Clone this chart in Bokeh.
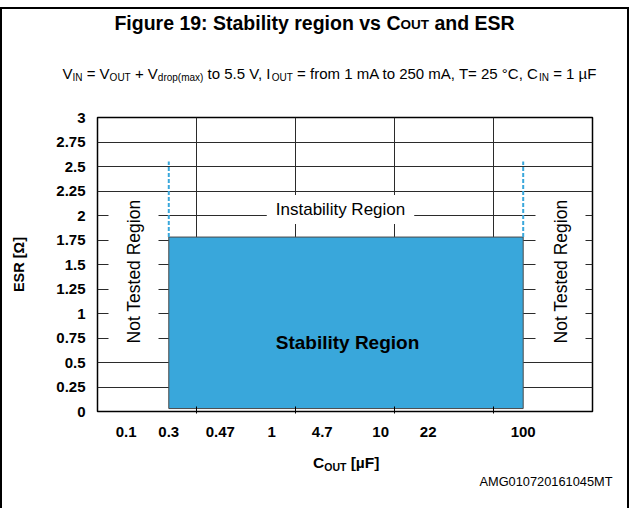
import math
from bokeh.plotting import figure
from bokeh.layouts import column
from bokeh.models import Range1d, FixedTicker, Label, ColumnDataSource
from bokeh.embed import file_html
from bokeh.resources import INLINE

# ---------------- data ----------------
cout_values = [0.1, 0.3, 0.47, 1, 4.7, 10, 22, 100]          # C_OUT tick values [uF]
cout_labels = ["0.1", "0.3", "0.47", "1", "4.7", "10", "22", "100"]
cout_slots = [0.29, 0.72, 1.24, 1.76, 2.27, 2.86, 3.34, 4.30]  # slot of each tick on the 5-column axis
column_edges = [1, 2, 3, 4]                                    # vertical grid columns

esr_ticks = [0, 0.25, 0.5, 0.75, 1, 1.25, 1.5, 1.75, 2, 2.25, 2.5, 2.75, 3]
esr_labels = ["0", "0.25", "0.5", "0.75", "1", "1.25", "1.5", "1.75", "2",
              "2.25", "2.5", "2.75", "3"]

stable_cout = [0.3, 100]     # C_OUT range of the stability region [uF]
stable_esr = [0.03, 1.78]    # ESR range of the stability region [ohm]
tested_esr_top = 2.55        # top of the dashed "tested" limits [ohm]

# ---------------- layout (page pixels) ----------------
OX, OY = 2, 9                 # content origin inside the border
W = 625
TOP_H, MAIN_H, BOT_H = 91, 350, 58
MAIN_Y0 = OY + TOP_H          # 100
BOT_Y0 = MAIN_Y0 + MAIN_H     # 450
FRAME_L, FRAME_R, FRAME_T, FRAME_B = 97, 592, 117, 411

FONT = "Liberation Sans"
BLUE = "#39A7DB"


def blank(h, y0):
    f = figure(width=W, height=h, x_range=Range1d(OX, OX + W), y_range=Range1d(y0 + h, y0),
               output_backend="svg", toolbar_location=None, frame_align=False,
               x_axis_location=None, y_axis_location=None,
               min_border_left=0, min_border_right=0, min_border_top=0, min_border_bottom=0)
    f.outline_line_color = None
    f.xgrid.visible = False
    f.ygrid.visible = False
    f.background_fill_color = "white"
    f.border_fill_color = "white"
    return f


top = blank(TOP_H, OY)
bot = blank(BOT_H, BOT_Y0)

p = figure(width=W, height=MAIN_H, x_range=Range1d(0, 5), y_range=Range1d(0, 3),
           output_backend="svg", toolbar_location=None, frame_align=False,
           min_border_left=FRAME_L - OX, min_border_right=OX + W - FRAME_R,
           min_border_top=FRAME_T - MAIN_Y0, min_border_bottom=BOT_Y0 - FRAME_B)
p.background_fill_color = "white"
p.border_fill_color = "white"
p.outline_line_color = "black"
p.outline_line_width = 1.5

# grids
p.xgrid.ticker = FixedTicker(ticks=column_edges)
p.ygrid.ticker = FixedTicker(ticks=esr_ticks)
for g in (p.xgrid, p.ygrid):
    g.grid_line_color = "#2b2b2b"
    g.grid_line_width = 1

# x axis: labels at their slots, small ticks at the column edges
slot_of = dict(zip(cout_values, cout_slots))
xa = p.xaxis[0]
xa.ticker = FixedTicker(ticks=cout_slots, minor_ticks=column_edges)
xa.major_label_overrides = {s: l for s, l in zip(cout_slots, cout_labels)}
xa.major_tick_in = 0
xa.major_tick_out = 0
xa.minor_tick_in = 5
xa.minor_tick_out = 2
xa.minor_tick_line_color = "black"
xa.axis_line_color = None
xa.major_label_standoff = 13
xa.major_label_text_font = FONT
xa.major_label_text_font_style = "bold"
xa.major_label_text_font_size = "15px"
xa.major_label_text_color = "black"

ya = p.yaxis[0]
ya.ticker = FixedTicker(ticks=esr_ticks)
ya.major_label_overrides = {t: l for t, l in zip(esr_ticks, esr_labels)}
ya.major_tick_in = 0
ya.major_tick_out = 0
ya.minor_tick_line_color = None
ya.axis_line_color = None
ya.major_label_standoff = 12
ya.major_label_text_font = FONT
ya.major_label_text_font_style = "bold"
ya.major_label_text_font_size = "15px"
ya.major_label_text_color = "black"
ya.axis_label = "ESR [Ω]"
ya.axis_label_standoff = 26
ya.axis_label_text_font = FONT
ya.axis_label_text_font_style = "bold"
ya.axis_label_text_font_size = "14.5px"
ya.axis_label_text_color = "black"

# stability region
region = ColumnDataSource(dict(left=[slot_of[stable_cout[0]]], right=[slot_of[stable_cout[1]]],
                               bottom=[stable_esr[0]], top=[stable_esr[1]]))
p.quad(left="left", right="right", bottom="bottom", top="top", source=region,
       fill_color=BLUE, line_color="#4a4a4a", line_width=1)

limits = ColumnDataSource(dict(x=[slot_of[c] for c in stable_cout],
                               y0=[stable_esr[1]] * 2, y1=[tested_esr_top] * 2))
p.segment(x0="x", x1="x", y0="y0", y1="y1", source=limits,
          line_color=BLUE, line_width=2, line_dash="4 2")


def X(px):
    return (px - FRAME_L) / (FRAME_R - FRAME_L) * 5.0


def Y(py):
    return (FRAME_B - py) / (FRAME_B - FRAME_T) * 3.0


def caption(text, cx, cy, size, bold=False, angle=0.0, bg=None, padding=0):
    lab = Label(x=X(cx), y=Y(cy), text=text, text_font=FONT, text_font_size=f"{size}px",
                text_font_style="bold" if bold else "normal", text_align="center",
                text_baseline="middle", angle=angle, text_color="black")
    if bg:
        lab.background_fill_color = bg
        lab.padding = padding
    p.add_layout(lab)


caption("Not Tested Region", 133, 271, 17.5, angle=math.pi / 2, bg="white", padding=(4, 15))
caption("Not Tested Region", 560, 271, 17.5, angle=math.pi / 2, bg="white", padding=(4, 15))
caption("Instability Region", 340, 209, 17, bg="white", padding=(9, 5))
caption("Stability Region", 347, 342, 19, bold=True)

# ---------------- texts with subscripts ----------------
REG = {' ': 278, '=': 584, '+': 584, 'V': 667, 'I': 278, 'N': 722, 'O': 778, 'U': 722,
       'T': 611, 'd': 556, 'r': 333, 'o': 556, 'p': 556, '(': 333, ')': 333, 'm': 833,
       'a': 556, 'x': 500, 't': 278, '5': 556, '.': 278, ',': 278, 'f': 278, '1': 556,
       'A': 667, '2': 556, '0': 556, '°': 400, 'C': 722, 'µ': 576, 'F': 611}
BOLD = {' ': 278, 'F': 611, 'i': 278, 'g': 611, 'u': 611, 'r': 389, 'e': 556, '1': 556,
        '9': 556, ':': 333, 'S': 667, 't': 333, 'a': 556, 'b': 611, 'l': 278, 'y': 556,
        'o': 611, 'n': 611, 'v': 556, 's': 556, 'C': 722, 'O': 778, 'U': 722, 'T': 611,
        'd': 611, 'E': 667, 'R': 722, '[': 333, ']': 333, 'µ': 611}


def tw(s, size, bold):
    table = BOLD if bold else REG
    return sum(table.get(c, 556) for c in s) * size / 1000.0


def rich(fig, parts, anchor, center_y, align="left"):
    """parts: (text, size, bold, vertical offset of the part's centre)"""
    total = sum(tw(t, sz, b) for t, sz, b, _ in parts)
    x = anchor - total / 2 if align == "center" else (anchor - total if align == "right" else anchor)
    for t, sz, b, shift in parts:
        lead = len(t) - len(t.lstrip())
        fig.add_layout(Label(x=x + tw(t[:lead], sz, b), y=center_y + shift, text=t.strip(),
                             text_font=FONT, text_font_size=f"{sz}px",
                             text_font_style="bold" if b else "normal",
                             text_align="left", text_baseline="middle", text_color="black"))
        x += tw(t, sz, b)


rich(top, [("Figure 19: Stability region vs C", 19.5, True, 0), ("OUT", 13.5, True, 2),
           (" and ESR", 19.5, True, 0)], 314, 22, "center")

M, S, D = 15, 10, 4
rich(top, [("V", M, False, 0), ("IN", S, False, D), (" = V", M, False, 0), ("OUT", S, False, D),
           (" + V", M, False, 0), ("drop(max)", S, False, D), (" to 5.5 V, I", M, False, 0),
           ("OUT", S, False, D), (" = from 1 mA to 250 mA, T= 25 °C, C", M, False, 0),
           ("IN", S, False, D), (" = 1 µF", M, False, 0)], 62, 73, "left")

rich(bot, [("C", 15.5, True, 0), ("OUT", 10.5, True, 4), (" [µF]", 15.5, True, 0)], 346, 462, "center")

bot.add_layout(Label(x=612, y=481, text="AMG010720161045MT", text_font=FONT,
                     text_font_size="12.8px", text_align="right", text_baseline="middle",
                     text_color="black"))

page = column(top, p, bot, spacing=0,
              styles={"margin-top": "7px", "border-top": "2px solid black",
                      "border-left": "2px solid black", "border-right": "2px solid black"})

open("out.html", "w").write(file_html(page, INLINE))
